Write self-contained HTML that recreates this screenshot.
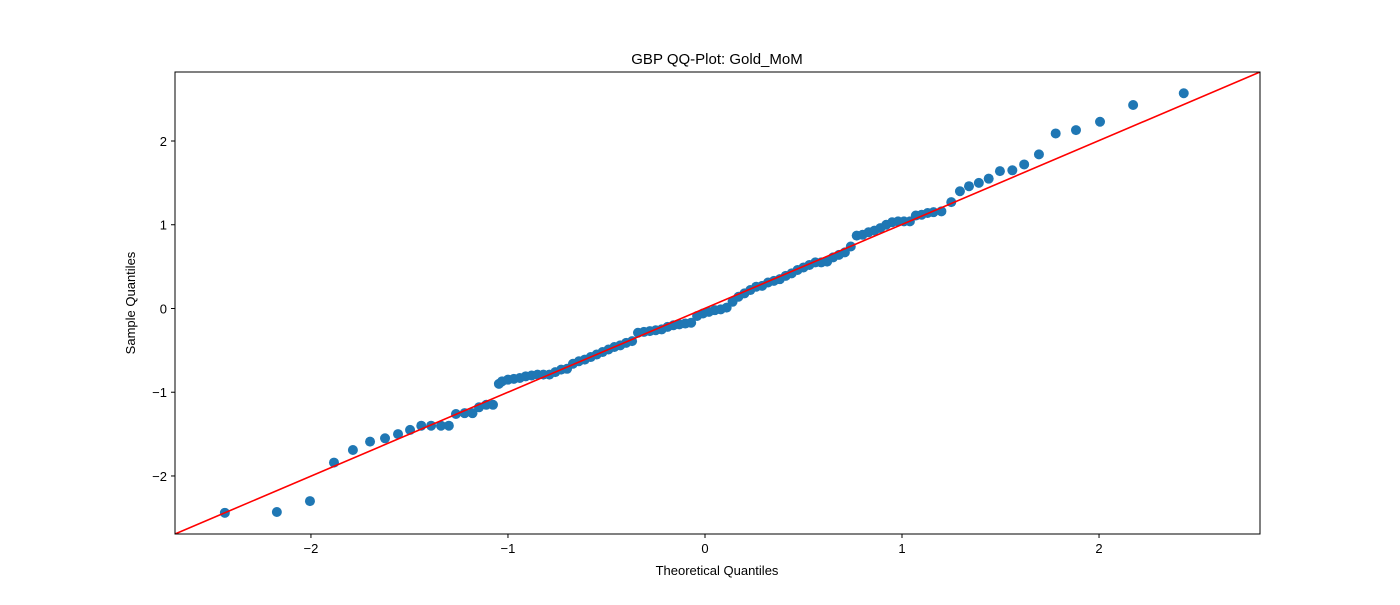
<!DOCTYPE html>
<html><head><meta charset="utf-8"><style>
body{margin:0;background:#fff;}
svg text{font-family:"Liberation Sans","DejaVu Sans",sans-serif;}
</style></head><body>
<svg id="chart" width="1400" height="600" viewBox="0 0 1400 600" xmlns="http://www.w3.org/2000/svg">
<rect width="1400" height="600" fill="#fff"/>
<defs><clipPath id="clip"><rect x="175" y="72" width="1085" height="462"/></clipPath></defs>
<g id="points" clip-path="url(#clip)"></g>
<g id="refline" clip-path="url(#clip)"></g>
<rect x="175" y="72" width="1085" height="462" fill="none" stroke="#000" stroke-width="1"/>
<g id="xticks"></g>
<g id="yticks"></g>
<text x="717" y="64" font-size="15" text-anchor="middle">GBP QQ-Plot: Gold_MoM</text>
<text x="717" y="575" font-size="13" text-anchor="middle">Theoretical Quantiles</text>
<text x="135" y="303" font-size="13" text-anchor="middle" transform="rotate(-90 135 303)">Sample Quantiles</text>
</svg>
<script>
const theoretical = [-2.437,-2.173,-2.005,-1.883,-1.787,-1.70,-1.624,-1.558,-1.497,-1.44,-1.39,-1.34,-1.30,-1.264,-1.22,-1.18,-1.147,-1.11,-1.076,-1.046,
-1.03,-1.00,-0.97,-0.94,-0.91,-0.88,-0.85,-0.82,-0.79,-0.76,-0.73,-0.70,-0.67,-0.64,-0.61,-0.58,-0.55,-0.52,-0.49,-0.46,-0.43,-0.40,-0.37,-0.34,-0.31,-0.28,-0.25,-0.22,-0.19,-0.16,-0.13,-0.10,-0.07,-0.04,-0.01,0.02,0.05,0.08,0.11,0.14,0.17,0.20,0.23,0.26,0.29,0.32,0.35,0.38,0.41,0.44,0.47,0.50,0.53,0.56,0.59,0.62,0.65,0.68,0.71,0.74,0.77,0.80,0.83,0.86,0.89,0.92,0.95,0.98,1.01,1.04,1.07,1.10,1.13,1.16,1.20,1.25,
1.294,1.34,1.39,1.44,1.497,1.56,1.62,1.695,1.78,1.883,2.005,2.173,2.43];
const sample = [-2.44,-2.43,-2.30,-1.84,-1.69,-1.59,-1.55,-1.50,-1.45,-1.40,-1.40,-1.40,-1.40,-1.26,-1.25,-1.25,-1.18,-1.15,-1.15,-0.90,
-0.87,-0.85,-0.84,-0.83,-0.81,-0.80,-0.79,-0.79,-0.79,-0.76,-0.73,-0.72,-0.66,-0.63,-0.61,-0.58,-0.55,-0.52,-0.49,-0.46,-0.44,-0.41,-0.39,-0.29,-0.28,-0.27,-0.26,-0.25,-0.22,-0.20,-0.19,-0.18,-0.17,-0.09,-0.06,-0.04,-0.02,-0.01,0.01,0.08,0.14,0.18,0.22,0.26,0.27,0.31,0.33,0.35,0.39,0.42,0.46,0.49,0.52,0.55,0.55,0.56,0.61,0.64,0.67,0.74,0.87,0.88,0.91,0.93,0.96,1.00,1.03,1.04,1.04,1.04,1.11,1.12,1.14,1.15,1.16,1.27,
1.40,1.46,1.50,1.55,1.64,1.65,1.72,1.84,2.09,2.13,2.23,2.43,2.57];
const xTicks = [-2,-1,0,1,2];
const yTicks = [-2,-1,0,1,2];
const xDomain = [-2.690,2.817];
const yDomain = [-2.693,2.824];
const lineX = [-2.69,2.817];
const lineY = [-2.693,2.824];

const NS="http://www.w3.org/2000/svg";
const L=175,R=1260,T=72,B=534;
const sx=v=>L+(v-xDomain[0])/(xDomain[1]-xDomain[0])*(R-L);
const sy=v=>B-(v-yDomain[0])/(yDomain[1]-yDomain[0])*(B-T);
const mk=(t,a)=>{const e=document.createElementNS(NS,t);for(const k in a)e.setAttribute(k,a[k]);return e;};
const minus=v=>v<0?"\u2212"+Math.abs(v):String(v);

const pg=document.getElementById('points');
theoretical.forEach((x,i)=>{
  const c=mk('circle',{cx:sx(x),cy:sy(sample[i]),r:5,fill:'#1f77b4'});
  
  
  pg.appendChild(c);
});
const ln=mk('line',{x1:sx(lineX[0]),y1:sy(lineY[0]),x2:sx(lineX[1]),y2:sy(lineY[1]),stroke:'#ff0000','stroke-width':1.6});


document.getElementById('refline').appendChild(ln);

const xg=document.getElementById('xticks');
xTicks.forEach(v=>{
  const t=mk('line',{x1:sx(v),x2:sx(v),y1:B,y2:B+4,stroke:'#000'});
  
  
  xg.appendChild(t);
  const l=mk('text',{x:sx(v),y:B+19,'font-size':13,'text-anchor':'middle'});
  l.textContent=minus(v);
  
  
  xg.appendChild(l);
});
const yg=document.getElementById('yticks');
yTicks.forEach(v=>{
  const t=mk('line',{x1:L-4,x2:L,y1:sy(v),y2:sy(v),stroke:'#000'});
  
  
  yg.appendChild(t);
  const l=mk('text',{x:L-8,y:sy(v)+5,'font-size':13,'text-anchor':'end'});
  l.textContent=minus(v);
  
  
  yg.appendChild(l);
});
</script>
</body></html>
